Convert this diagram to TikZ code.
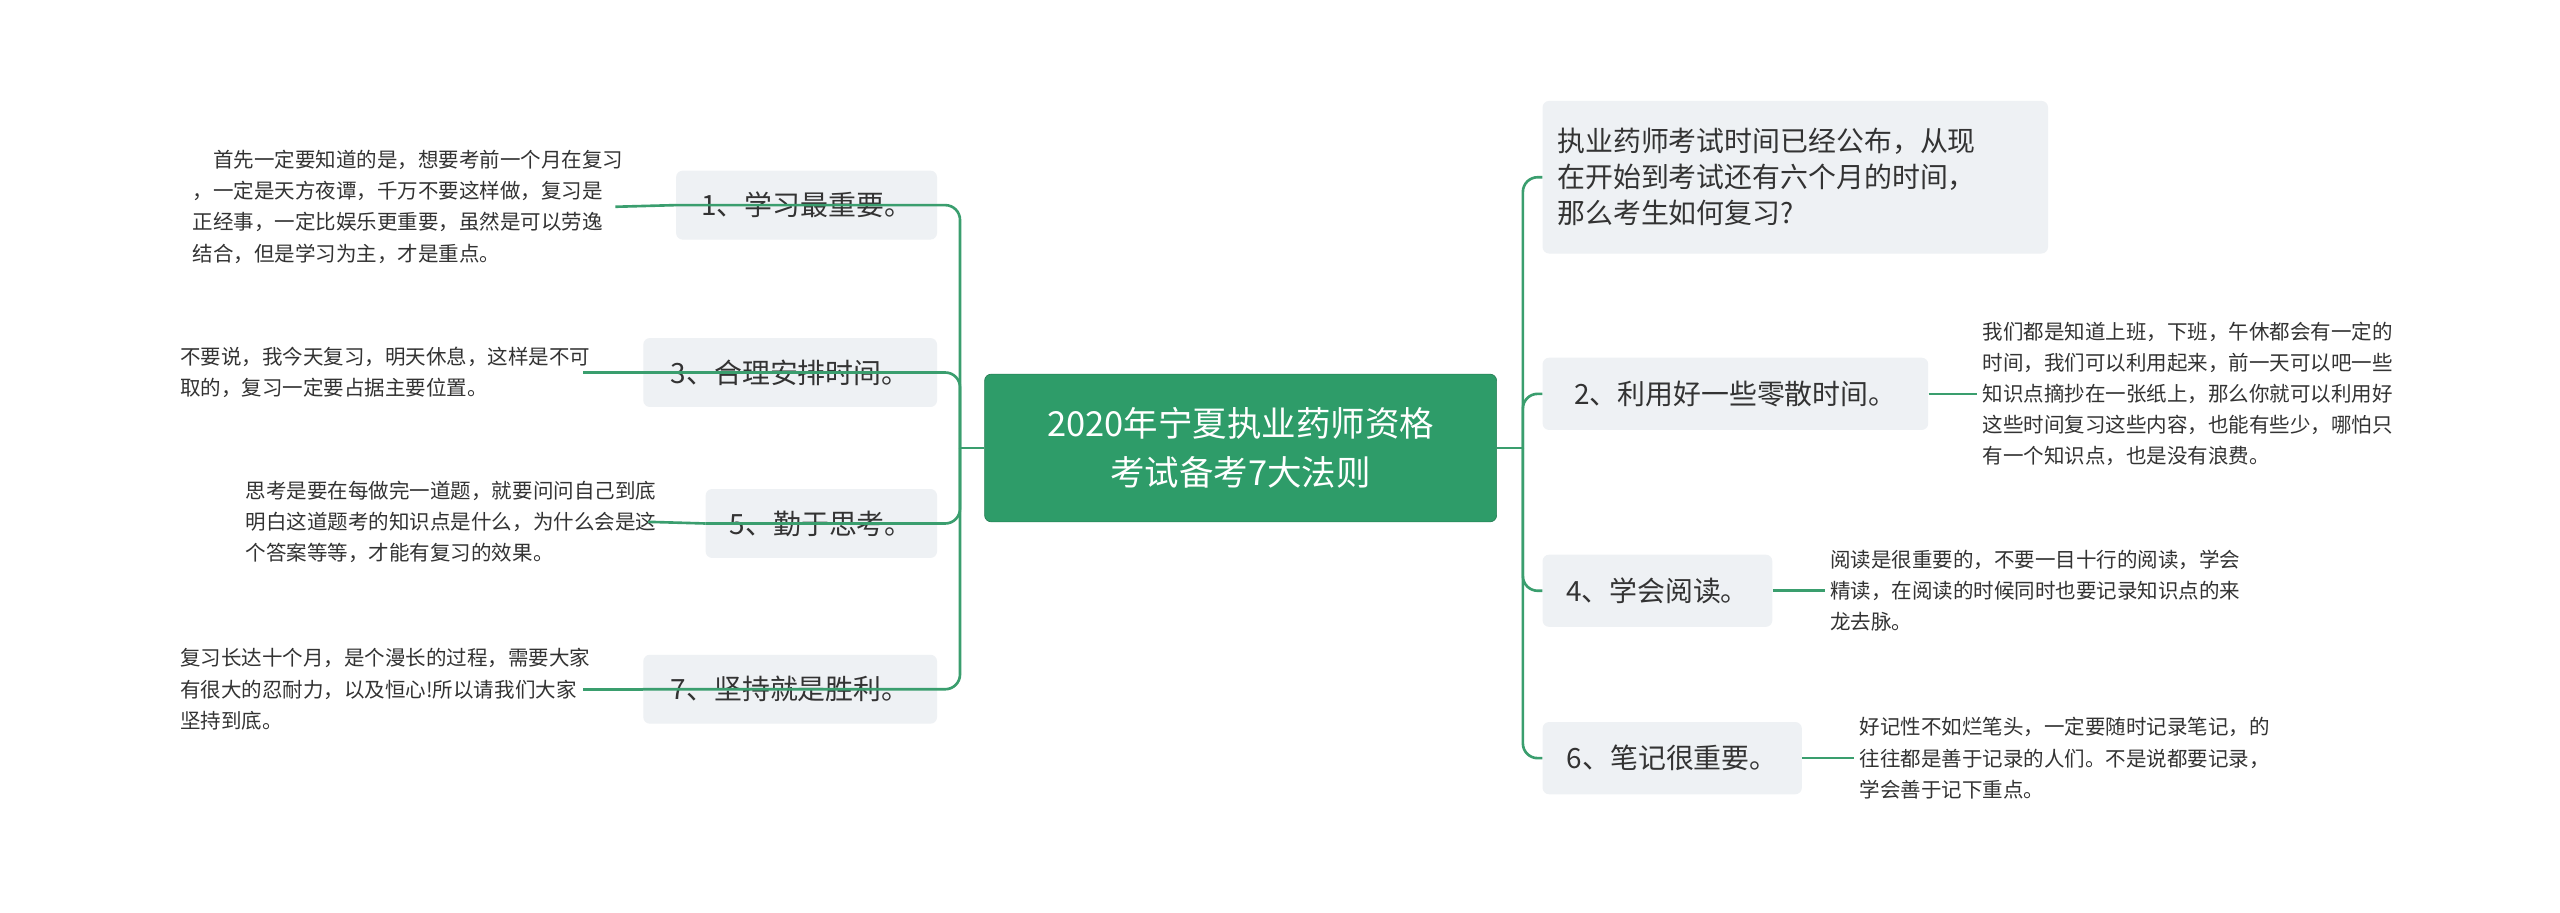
\documentclass[tikz,border=0pt]{standalone}
\usepackage{fontspec}
\setmainfont{Noto Sans CJK SC}
\definecolor{gline}{HTML}{3A9E6E}
\definecolor{gfill}{HTML}{2E9C69}
\definecolor{nfill}{HTML}{EEF1F4}
\definecolor{tcol}{HTML}{333333}
\begin{document}
\begin{tikzpicture}[x=1pt,y=-1pt,
  topic/.style={fill=nfill,rounded corners=4pt,inner sep=0pt,font=\fontsize{17}{22}\selectfont,text=tcol},
  leaf/.style={inner sep=0pt,align=left,font=\fontsize{12.5}{19}\selectfont,text=tcol},
  conn/.style={draw=gline,line width=1.6pt,rounded corners=9pt}]
\useasboundingbox (0,0) rectangle (1560,556);
\fill[white] (0,0) rectangle (1560,556);
\node[fill=gfill,draw=gfill!80!black,rounded corners=4pt,minimum width=312pt,minimum height=90pt,text=white,align=center,font=\fontsize{21}{30}\selectfont] (c) at (756,273) {2020年宁夏执业药师资格\\考试备考7大法则};
% left
\node[topic,minimum width=159pt,minimum height=42pt] (n1) at (491.5,125) {1、学习最重要。};
\node[topic,minimum width=179pt,minimum height=42pt] (n3) at (481.5,227) {3、合理安排时间。};
\node[topic,minimum width=141pt,minimum height=42pt] (n5) at (500.5,319) {5、勤于思考。};
\node[topic,minimum width=179pt,minimum height=42pt] (n7) at (481.5,420) {7、坚持就是胜利。};
\node[leaf,anchor=east] (l1) at (380,126) {\hspace*{1em}首先一定要知道的是，想要考前一个月在复习\\，一定是天方夜谭，千万不要这样做，复习是\\正经事，一定比娱乐更重要，虽然是可以劳逸\\结合，但是学习为主，才是重点。};
\node[leaf,anchor=east] (l3) at (360,227) {不要说，我今天复习，明天休息，这样是不可\\取的，复习一定要占据主要位置。};
\node[leaf,anchor=east] (l5) at (400,318) {思考是要在每做完一道题，就要问问自己到底\\明白这道题考的知识点是什么，为什么会是这\\个答案等等，才能有复习的效果。};
\node[leaf,anchor=east] (l7) at (360,420) {复习长达十个月，是个漫长的过程，需要大家\\有很大的忍耐力，以及恒心!所以请我们大家\\坚持到底。};
% right
\node[topic,minimum width=308pt,minimum height=93pt,align=left,text width=290pt] (n0) at (1094,108) {执业药师考试时间已经公布，从现\\在开始到考试还有六个月的时间，\\那么考生如何复习?};
\node[topic,minimum width=235pt,minimum height=44pt] (n2) at (1057.5,240) {2、利用好一些零散时间。};
\node[topic,minimum width=140pt,minimum height=44pt] (n4) at (1010,360) {4、学会阅读。};
\node[topic,minimum width=158pt,minimum height=44pt] (n6) at (1019,462) {6、笔记很重要。};
\node[leaf,anchor=west] (l2) at (1208,240) {我们都是知道上班，下班，午休都会有一定的\\时间，我们可以利用起来，前一天可以吧一些\\知识点摘抄在一张纸上，那么你就可以利用好\\这些时间复习这些内容，也能有些少，哪怕只\\有一个知识点，也是没有浪费。};
\node[leaf,anchor=west] (l4) at (1115,360) {阅读是很重要的，不要一目十行的阅读，学会\\精读，在阅读的时候同时也要记录知识点的来\\龙去脉。};
\node[leaf,anchor=west] (l6) at (1133,462) {好记性不如烂笔头，一定要随时记录笔记，的\\往往都是善于记录的人们。不是说都要记录，\\学会善于记下重点。};
\coordinate (cl) at (585,273);
\coordinate (cr) at (928,273);
\draw[conn] (c.west) -- (cl);
\draw[conn] (c.east) -- (cr);
\foreach \n in {n1,n3,n5,n7} \draw[conn] (cl) |- (\n.west);
\foreach \n in {n0,n2,n4,n6} \draw[conn] (cr) |- (\n.west);
\draw[conn] (n1.west) -- ([xshift=-5pt]l1.east);
\draw[conn] (n3.west) -- ([xshift=-5pt]l3.east);
\draw[conn] (n5.west) -- ([xshift=-5pt]l5.east);
\draw[conn] (n7.west) -- ([xshift=-5pt]l7.east);
\draw[conn] (n2.east) -- ([xshift=-3pt]l2.west);
\draw[conn] (n4.east) -- ([xshift=-3pt]l4.west);
\draw[conn] (n6.east) -- ([xshift=-3pt]l6.west);
\end{tikzpicture}
\end{document}
